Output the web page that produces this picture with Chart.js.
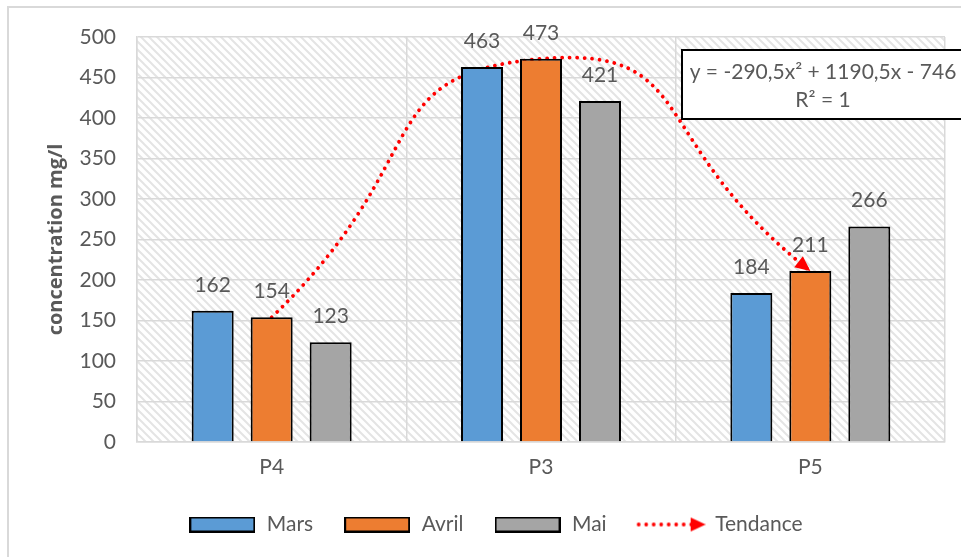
<!DOCTYPE html>
<html lang="fr">
<head>
<meta charset="UTF-8" />
<title>Concentration mg/l</title>
<script src="https://cdn.jsdelivr.net/npm/chart.js"></script>
<style>
  html, body { margin: 0; padding: 0; background: #fff; overflow: hidden; }
  #wrap { width: 961px; height: 557px; position: relative; }
</style>
</head>
<body>
<div id="wrap"><canvas id="concChart" width="961" height="557"></canvas></div>
<script>
  // stations and monthly concentrations (mg/l)
  const stations = ["P4", "P3", "P5"];
  const mars = [162, 463, 184];
  const avril = [154, 473, 211];
  const mai = [123, 421, 266];
  const yMin = 0, yMax = 500, yStep = 50;
  const equationLines = ["y = -290,5x\u00B2 + 1190,5x - 746", "R\u00B2 = 1"];

  const FONT = "Lato, 'Liberation Sans', sans-serif";
  const TEXT = "#595959";
  const GRID = "#d9d9d9";
  const BLUE = "#5b9bd5", ORANGE = "#ed7d31", GREY = "#a5a5a5", RED = "#ff0000";

  // diagonal hatch tile for the plot background
  function hatchTile() {
    const c = document.createElement("canvas");
    c.width = 8; c.height = 8;
    const g = c.getContext("2d");
    g.fillStyle = "#fff";
    g.fillRect(0, 0, 8, 8);
    g.strokeStyle = "#e4e4e4";
    g.lineWidth = 2;
    g.beginPath();
    g.moveTo(-1, -1); g.lineTo(9, 9);
    g.moveTo(7, -1); g.lineTo(9, 1);
    g.moveTo(-1, 7); g.lineTo(1, 9);
    g.stroke();
    return c;
  }

  function legendBox(fill) {
    const c = document.createElement("canvas");
    c.width = 66; c.height = 16;
    const g = c.getContext("2d");
    g.fillStyle = fill;
    g.fillRect(1, 1, 64, 14);
    g.strokeStyle = "#000";
    g.lineWidth = 2;
    g.strokeRect(1, 1, 64, 14);
    return c;
  }

  function legendTrend() {
    const c = document.createElement("canvas");
    c.width = 70; c.height = 16;
    const g = c.getContext("2d");
    g.fillStyle = RED;
    for (let x = 3; x < 56; x += 7.5) {
      g.beginPath(); g.arc(x, 8, 1.9, 0, Math.PI * 2); g.fill();
    }
    g.beginPath();
    g.moveTo(55, 1); g.lineTo(70, 8); g.lineTo(55, 15); g.closePath();
    g.fill();
    return c;
  }

  const hatchBackground = {
    id: "hatchBackground",
    beforeDraw(chart) {
      const { ctx, chartArea: a } = chart;
      ctx.save();
      // outer frame (left and top edges)
      ctx.strokeStyle = GRID;
      ctx.lineWidth = 2;
      ctx.beginPath();
      ctx.moveTo(8, 557); ctx.lineTo(8, 7); ctx.lineTo(961, 7);
      ctx.stroke();
      ctx.fillStyle = ctx.createPattern(hatchTile(), "repeat");
      ctx.fillRect(a.left, a.top, a.right - a.left, a.bottom - a.top);
      ctx.restore();
    }
  };

  const trendArrow = {
    id: "trendArrow",
    afterDatasetsDraw(chart) {
      const idx = chart.data.datasets.findIndex(d => d.type === "line");
      const pts = chart.getDatasetMeta(idx).data;
      const p = pts[pts.length - 1];
      const ang = Math.atan2(p.y - p.cp1y, p.x - p.cp1x);
      const { ctx } = chart;
      ctx.save();
      ctx.translate(p.x, p.y);
      ctx.rotate(ang);
      ctx.fillStyle = RED;
      ctx.beginPath();
      ctx.moveTo(0, 0); ctx.lineTo(-15, -7); ctx.lineTo(-15, 7); ctx.closePath();
      ctx.fill();
      ctx.restore();
    }
  };

  const equationAndLabels = {
    id: "equationAndLabels",
    afterDraw(chart) {
      const { ctx, chartArea: a } = chart;
      ctx.save();
      // trendline equation box
      const bx = a.right - 263, by = a.top + 13;
      ctx.fillStyle = "#fff";
      ctx.fillRect(bx, by, 300, 69);
      ctx.strokeStyle = "#000";
      ctx.lineWidth = 2;
      ctx.strokeRect(bx, by, 300, 69);
      ctx.fillStyle = TEXT;
      ctx.font = "21px " + FONT;
      ctx.textAlign = "center";
      ctx.textBaseline = "middle";
      ctx.fillText(equationLines[0], bx + 141, by + 22);
      ctx.fillText(equationLines[1], bx + 141, by + 50);
      // values above the bars
      chart.data.datasets.forEach((ds, i) => {
        if (ds.type === "line") return;
        chart.getDatasetMeta(i).data.forEach((bar, j) => {
          ctx.fillText(String(ds.data[j]), bar.x, bar.y - 26);
        });
      });
      ctx.restore();
    }
  };

  const barStyle = { borderColor: "#000", borderWidth: 2, categoryPercentage: 0.657, barPercentage: 0.712 };

  new Chart(document.getElementById("concChart"), {
    type: "bar",
    data: {
      labels: stations,
      datasets: [
        { label: "Mars", data: mars, backgroundColor: BLUE, ...barStyle, legendIcon: legendBox(BLUE) },
        { label: "Avril", data: avril, backgroundColor: ORANGE, ...barStyle, legendIcon: legendBox(ORANGE) },
        { label: "Mai", data: mai, backgroundColor: GREY, ...barStyle, legendIcon: legendBox(GREY) },
        {
          type: "line", label: "Tendance", data: avril,
          borderColor: RED, borderWidth: 3.8, borderDash: [0.01, 7.5], borderCapStyle: "round",
          tension: 0.62, pointRadius: 0, fill: false, legendIcon: legendTrend()
        }
      ]
    },
    options: {
      responsive: false,
      animation: false,
      layout: { padding: { left: 46, right: 16, top: 37, bottom: 12 } },
      plugins: {
        tooltip: { enabled: false },
        legend: {
          position: "bottom",
          labels: {
            usePointStyle: true,
            pointStyleWidth: 68,
            boxHeight: 16,
            padding: 30,
            color: TEXT,
            font: { family: FONT, size: 21 },
            generateLabels: chart => chart.data.datasets.map((ds, i) => ({
              text: ds.label,
              pointStyle: ds.legendIcon,
              fontColor: TEXT,
              lineWidth: 0,
              datasetIndex: i
            }))
          }
        }
      },
      scales: {
        x: {
          grid: { color: GRID, lineWidth: 1.5, drawTicks: false, offset: true },
          border: { color: GRID, width: 1.5 },
          ticks: { color: TEXT, font: { family: FONT, size: 21 }, padding: 13 },
          afterFit: s => { s.height = 42; }
        },
        y: {
          min: yMin, max: yMax,
          ticks: { stepSize: yStep, color: TEXT, font: { family: FONT, size: 21 }, padding: 21 },
          grid: { color: GRID, lineWidth: 1.5, drawTicks: false },
          border: { color: GRID, width: 1.5 },
          title: {
            display: true, text: "concentration mg/l", color: TEXT,
            font: { family: "'Open Sans', Lato, sans-serif", size: 20, weight: "bold", lineHeight: 1 },
            padding: { top: 0, bottom: 0 }
          },
          afterFit: s => { s.width = 91; }
        }
      }
    },
    plugins: [hatchBackground, trendArrow, equationAndLabels]
  });
</script>
</body>
</html>
